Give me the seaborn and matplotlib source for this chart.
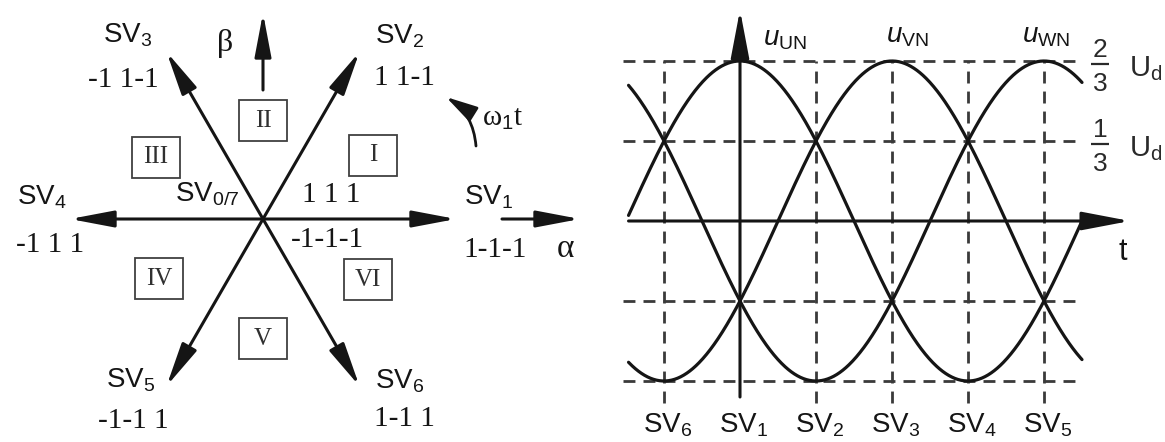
import numpy as np
import pandas as pd
import matplotlib
matplotlib.use("Agg")
import matplotlib.pyplot as plt
from matplotlib.patches import Rectangle
import seaborn as sns

# ---------------- space-vector hexagon ----------------
vector_names = ["SV$_1$", "SV$_2$", "SV$_3$", "SV$_4$", "SV$_5$", "SV$_6$"]
vector_angles = [0, 60, 120, 180, 240, 300]
switch_states = ["1-1-1", "1 1-1", "-1 1-1", "-1 1 1", "-1-1 1", "1-1 1"]
sector_names = ["I", "II", "III", "IV", "V", "VI"]
sector_angles = [30, 90, 150, 210, 270, 330]
zero_vector_name = "SV$_{0/7}$"
zero_states = ["1 1 1", "-1-1-1"]

# ---------------- phase voltages ----------------
phase_names = ["UN", "VN", "WN"]
phase_shift_deg = [0, 120, 240]
amplitude = 2 / 3
grid_levels = [2 / 3, 1 / 3, -1 / 3, -2 / 3]
level_fractions = [("2", "3"), ("1", "3")]
sv_tick_angles = [-60, 0, 60, 120, 180, 240]
sv_tick_labels = ["SV$_6$", "SV$_1$", "SV$_2$", "SV$_3$", "SV$_4$", "SV$_5$"]
theta_range = (-88, 270)

# ---------------- style ----------------
sns.set_theme(style="white")
plt.rcParams["font.family"] = ["Liberation Sans", "DejaVu Sans"]
plt.rcParams["mathtext.fontset"] = "custom"
plt.rcParams["mathtext.rm"] = "Liberation Sans"
plt.rcParams["mathtext.it"] = "Liberation Sans:italic"
plt.rcParams["mathtext.bf"] = "Liberation Sans:bold"

INK = "#151515"
GRID = "#3a3a3a"
SERIF = ["Liberation Serif", "DejaVu Serif"]
SANS = ["Liberation Sans", "DejaVu Sans"]

W, H = 1165, 442
fig = plt.figure(figsize=(W / 100, H / 100), dpi=100)
fig.patch.set_facecolor("white")


def arrow(ax, start, end, lw=2.2, hl=1.9, hw=0.36):
    ax.annotate("", xy=end, xytext=start,
                arrowprops=dict(arrowstyle=f"-|>,head_length={hl},head_width={hw}",
                                lw=lw, color=INK, shrinkA=0, shrinkB=0,
                                mutation_scale=14))


def label(ax, text, anchor, offset, size, family=SANS, color=INK, **kw):
    ax.annotate(text, xy=anchor, xytext=offset, textcoords="offset pixels",
                ha="center", va="center", fontsize=size, family=family,
                color=color, **kw)


# ======== left: hexagon of switching vectors ========
hex_w = 600
cx, cy, unit = 263, 219, 193
axL = fig.add_axes([0, 0, hex_w / W, 1])
axL.set_axis_off()

tips = [(np.cos(np.radians(a)), np.sin(np.radians(a))) for a in vector_angles]
for tip in tips:
    arrow(axL, (0, 0), tip)

name_offsets = [(33, 22), (40, 16), (-39, 17), (-28, 22), (-36, 6), (40, 5)]
state_offsets = [(39, -31), (45, -26), (-43, -28), (-20, -26), (-33, -35), (45, -33)]
for tip, name, state, no, so in zip(tips, vector_names, switch_states,
                                    name_offsets, state_offsets):
    label(axL, name, tip, no, 20)
    label(axL, state, tip, so, 21, family=SERIF)

# zero vectors at the origin
label(axL, zero_vector_name, (0, 0), (-56, 25), 20)
label(axL, zero_states[0], (0, 0), (68, 24), 21, family=SERIF)
label(axL, zero_states[1], (0, 0), (64, -21), 21, family=SERIF)

# sectors in boxes
sector_radius = [0.66, 0.51, 0.64, 0.62, 0.62, 0.63]
bw, bh = 48 / unit, 41 / unit
for name, ang, r in zip(sector_names, sector_angles, sector_radius):
    x, y = r * np.cos(np.radians(ang)), r * np.sin(np.radians(ang))
    axL.add_patch(Rectangle((x - bw / 2, y - bh / 2), bw, bh, fill=False,
                            lw=1.3, edgecolor="#404040"))
    axL.text(x, y, name, ha="center", va="center", fontsize=18,
             family=SERIF, color="#303030")

# alpha / beta reference axes
beta_start, beta_tip = (0, (cy - 90) / unit), (0, (cy - 13) / unit)
alpha_start, alpha_tip = ((502 - cx) / unit, 0), ((580 - cx) / unit, 0)
arrow(axL, beta_start, beta_tip)
arrow(axL, alpha_start, alpha_tip)
label(axL, "β", beta_tip, (-38, -31), 23, family=SERIF)
label(axL, "α", alpha_tip, (-15, -30), 24, family=SERIF)

# sense of rotation
rot_start = ((476 - cx) / unit, (cy - 146) / unit)
rot_tip = ((446 - cx) / unit, (cy - 97) / unit)
axL.annotate("", xy=rot_tip, xytext=rot_start,
             arrowprops=dict(arrowstyle="-|>,head_length=1.6,head_width=0.42",
                             lw=2.0, color=INK, shrinkA=0, shrinkB=0,
                             mutation_scale=12,
                             connectionstyle="arc3,rad=0.25"))
label(axL, "ω$_1$t", rot_start, (27, 27), 21, family=SERIF)

axL.set_xlim(-cx / unit, (hex_w - cx) / unit)
axL.set_ylim(-(H - cy) / unit, cy / unit)

# ======== right: phase-to-neutral voltages ========
ox, oy = 740, 221          # pixel position of the origin
kx, ky = 76 / 60, 240      # pixels per degree, pixels per U_d
axR = fig.add_axes([hex_w / W, 0, (W - hex_w) / W, 1])
axR.set_axis_off()

theta = np.linspace(theta_range[0], theta_range[1], 600)
frames = []
for name, shift in zip(phase_names, phase_shift_deg):
    frames.append(pd.DataFrame({
        "theta": theta,
        "u": amplitude * np.cos(np.radians(theta - shift)),
        "phase": name,
    }))
curves = pd.concat(frames, ignore_index=True)

dash = (0, (4.3, 2.9))
dash_left, dash_right = theta_range[0] - 4, theta_range[1] + 1
axR.hlines(grid_levels, dash_left, dash_right, colors=GRID, lw=2.0,
           linestyles=[dash])
v_bottom = -(403 - oy) / ky
for ang in sv_tick_angles:
    if ang != 0:
        axR.vlines(ang, v_bottom, grid_levels[0], colors=GRID, lw=2.0,
                   linestyles=[dash])

sns.lineplot(data=curves, x="theta", y="u", hue="phase",
             palette=[INK] * 3, linewidth=2.3, legend=False, sort=False,
             estimator=None, ax=axR)

# axes with arrows
arrow(axR, (0, -(397 - oy) / ky), (0, (oy - 10) / ky), hl=2.1, hw=0.4)
arrow(axR, (theta_range[0], 0), ((1130 - ox) / kx, 0), hl=2.1, hw=0.4)
label(axR, "t", ((1130 - ox) / kx, 0), (-7, -31), 22)

# phase labels
phase_label_offsets = [(45, 22), (15, 25), (2, 25)]
for name, shift, off in zip(phase_names, phase_shift_deg, phase_label_offsets):
    label(axR, rf"$u_{{\mathrm{{{name}}}}}$", (shift, amplitude), off, 20)

# level labels as fractions of U_d
for lvl, (num, den) in zip(grid_levels, level_fractions):
    anchor = (dash_right, lvl)
    label(axR, num, anchor, (17, 11), 19, color="#2a2a2a")
    label(axR, den, anchor, (17, -23), 19, color="#2a2a2a")
    bar_y = lvl - 3 / ky
    axR.plot([dash_right + 8 / kx, dash_right + 26 / kx], [bar_y, bar_y],
             color="#2a2a2a", lw=1.6, solid_capstyle="butt")
    label(axR, "U$_\\mathrm{d}$", anchor, (62, -8), 21, color="#2a2a2a")

# switching-vector ticks under the time axis
for ang, name in zip(sv_tick_angles, sv_tick_labels):
    label(axR, name, (ang, grid_levels[-1]), (4, -44), 20)

axR.set_xlim((hex_w - ox) / kx, (W - ox) / kx)
axR.set_ylim(-(H - oy) / ky, oy / ky)

fig.savefig("out.png", dpi=100, facecolor="white")
